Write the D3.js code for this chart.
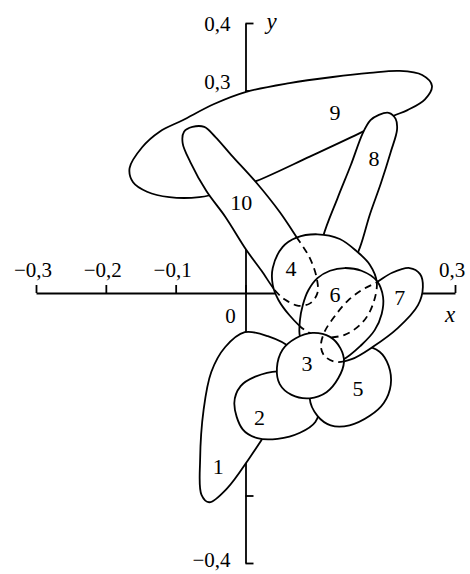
<!DOCTYPE html>
<html><head><meta charset="utf-8">
<script src="https://cdn.jsdelivr.net/npm/d3@7"></script>
<style>body{margin:0;background:#fff}</style>
</head><body>
<svg id="chart" width="470" height="574"></svg>
<script>
// ---- data (axis units) ----
const xTicks = [-0.3, -0.2, -0.1, 0, 0.1, 0.2, 0.3];
const yTicks = [-0.4, -0.3, -0.2, -0.1, 0.1, 0.2, 0.3, 0.4];
const xTickLabels = [[-0.3, "−0,3"], [-0.2, "−0,2"], [-0.1, "−0,1"], [0.3, "0,3"]];
const yTickLabels = [[0.4, "0,4"], [0.3, "0,3"], [-0.4, "−0,4"]];

// region outlines (x, y)
const region1 = [[-0.001,-0.058],[0.032,-0.064],[0.063,-0.081],[0.072,-0.114],[0.056,-0.159],[0.032,-0.203],[0.006,-0.244],[-0.026,-0.289],[-0.052,-0.310],[-0.063,-0.299],[-0.065,-0.247],[-0.060,-0.173],[-0.049,-0.117],[-0.029,-0.080]];
const region2 = [[-0.016,-0.163],[-0.007,-0.138],[0.014,-0.124],[0.046,-0.116],[0.075,-0.122],[0.096,-0.144],[0.106,-0.169],[0.100,-0.191],[0.078,-0.207],[0.046,-0.216],[0.017,-0.215],[-0.004,-0.202]];
const region3 = [[0.045,-0.111],[0.053,-0.084],[0.072,-0.067],[0.096,-0.059],[0.121,-0.065],[0.136,-0.082],[0.141,-0.102],[0.133,-0.126],[0.116,-0.147],[0.092,-0.156],[0.066,-0.151],[0.049,-0.135]];
const region4 = [[0.039,0.037],[0.053,0.068],[0.073,0.082],[0.103,0.087],[0.135,0.080],[0.159,0.062],[0.178,0.042],[0.188,0.016],[0.182,-0.018],[0.168,-0.043],[0.142,-0.062],[0.109,-0.065],[0.085,-0.055],[0.063,-0.033],[0.047,-0.010],[0.039,0.012]];
const region5 = [[0.092,-0.156],[0.099,-0.132],[0.121,-0.107],[0.146,-0.087],[0.171,-0.079],[0.192,-0.087],[0.205,-0.108],[0.208,-0.136],[0.198,-0.163],[0.178,-0.182],[0.149,-0.196],[0.122,-0.196],[0.103,-0.182]];
const region6 = [[0.078,-0.065],[0.078,-0.040],[0.082,-0.018],[0.090,0.004],[0.103,0.022],[0.121,0.033],[0.142,0.037],[0.166,0.033],[0.188,0.018],[0.197,-0.006],[0.195,-0.031],[0.185,-0.055],[0.166,-0.077],[0.139,-0.099],[0.113,-0.105],[0.092,-0.095]];
const region7 = [[0.188,0.016],[0.210,0.030],[0.235,0.037],[0.250,0.028],[0.254,0.009],[0.247,-0.018],[0.218,-0.052],[0.182,-0.080],[0.152,-0.098],[0.129,-0.102],[0.113,-0.093],[0.108,-0.079],[0.113,-0.058],[0.128,-0.034],[0.146,-0.012],[0.166,0.004]];
const region8 = [[0.191,0.264],[0.205,0.267],[0.215,0.258],[0.217,0.242],[0.208,0.209],[0.194,0.163],[0.178,0.116],[0.164,0.068],[0.149,0.034],[0.132,0.016],[0.113,0.022],[0.106,0.049],[0.111,0.083],[0.132,0.141],[0.151,0.190],[0.168,0.237],[0.179,0.256]];
const region9 = [[-0.166,0.185],[-0.148,0.216],[-0.123,0.239],[-0.090,0.256],[-0.045,0.280],[0.001,0.298],[0.063,0.311],[0.125,0.320],[0.178,0.326],[0.221,0.329],[0.253,0.323],[0.267,0.307],[0.257,0.287],[0.232,0.271],[0.211,0.262],[0.168,0.239],[0.092,0.202],[0.016,0.166],[-0.030,0.150],[-0.066,0.142],[-0.109,0.142],[-0.141,0.150],[-0.161,0.164]];
const region10 = [[-0.076,0.246],[-0.059,0.246],[-0.043,0.231],[-0.020,0.204],[0.016,0.163],[0.049,0.120],[0.073,0.083],[0.092,0.052],[0.102,0.022],[0.103,0.000],[0.093,-0.015],[0.076,-0.019],[0.057,-0.010],[0.043,0.003],[0.023,0.033],[0.001,0.064],[-0.029,0.113],[-0.056,0.151],[-0.079,0.194],[-0.090,0.222],[-0.088,0.239]];

const regionIds = [1, 2, 3, 4, 5, 6, 7, 8, 9, 10];
const regionOutlines = [region1, region2, region3, region4, region5, region6, region7, region8, region9, region10];
const labelX = [-0.039, 0.020, 0.088, 0.065, 0.161, 0.128, 0.221, 0.184, 0.128, -0.006];
const labelY = [-0.256, -0.184, -0.104, 0.037, -0.141, -0.002, -0.007, 0.200, 0.268, 0.135];
// stacking order, back to front
const drawOrder = [9, 10, 8, 4, 1, 2, 5, 7, 6, 3];
// [covering region, region whose hidden edge is drawn dashed]
const hiddenEdges = [[4, 10], [6, 10], [6, 4], [6, 7], [3, 7]];

// ---- drawing ----
const svg = d3.select("#chart");
const x = d3.scaleLinear().domain([-0.3, 0.3]).range([36, 455]);
const y = d3.scaleLinear().domain([-0.4, 0.4]).range([563, 23]);
const SW = 1.8;
const font = "'Liberation Serif','Times New Roman',serif";

const outlineOf = id => regionOutlines[regionIds.indexOf(id)];
const line = d3.line().x(d => x(d[0])).y(d => y(d[1])).curve(d3.curveCatmullRomClosed.alpha(0.5));

// axes
const gx = svg.append("g").attr("transform", `translate(0,${y(0)})`)
  .call(d3.axisTop(x).tickValues(xTicks).tickSize(8).tickSizeOuter(0).tickFormat(""));
const gy = svg.append("g").attr("transform", `translate(${x(0)},0)`)
  .call(d3.axisRight(y).tickValues(yTicks).tickSize(8).tickSizeOuter(0).tickFormat(""));
[gx, gy].forEach(g => {
  g.selectAll("path,line").attr("stroke", "#000").attr("stroke-width", SW);
});

// clip paths
const defs = svg.append("defs");
regionIds.forEach(id => {
  defs.append("clipPath").attr("id", "clip-" + id)
    .append("path").attr("d", line(outlineOf(id)));
});

// regions
const gr = svg.append("g");
drawOrder.forEach(id => {
  gr.append("path").attr("d", line(outlineOf(id)))
    .attr("fill", "#fff").attr("stroke", "#000").attr("stroke-width", SW)
    .attr("stroke-linejoin", "round");
  hiddenEdges.filter(h => h[0] === id).forEach(h => {
    gr.append("path").attr("d", line(outlineOf(h[1])))
      .attr("fill", "none").attr("stroke", "#000").attr("stroke-width", SW)
      .attr("stroke-dasharray", "7,5")
      .attr("clip-path", `url(#clip-${id})`);
  });
});

// region labels
svg.append("g").selectAll("text").data(regionIds).join("text")
  .attr("x", (d, i) => x(labelX[i]))
  .attr("y", (d, i) => y(labelY[i]))
  .attr("dy", "0.35em")
  .attr("text-anchor", "middle")
  .attr("font-family", font).attr("font-size", 22)
  .text(d => d);

// tick labels
svg.append("g").selectAll("text").data(xTickLabels).join("text")
  .attr("x", d => x(d[0]) - 3).attr("y", y(0) - 16)
  .attr("text-anchor", "middle")
  .attr("font-family", font).attr("font-size", 21)
  .text(d => d[1]);
svg.append("g").selectAll("text").data(yTickLabels).join("text")
  .attr("x", x(0) - 15)
  .attr("y", d => d[0] === 0.3 ? y(d[0]) - 1.5 : (d[0] < 0 ? y(d[0]) + 4 : y(d[0]) + 8))
  .attr("text-anchor", "end")
  .attr("font-family", font).attr("font-size", 21)
  .text(d => d[1]);
svg.append("text").attr("x", x(0) - 15).attr("y", y(0) + 30)
  .attr("text-anchor", "middle").attr("font-family", font).attr("font-size", 21).text("0");

// axis titles
svg.append("text").attr("x", x(0.3) - 5).attr("y", y(0) + 29)
  .attr("text-anchor", "middle").attr("font-family", font).attr("font-style", "italic")
  .attr("font-size", 23).text("x");
svg.append("text").attr("x", x(0) + 26).attr("y", y(0.4) + 6)
  .attr("text-anchor", "middle").attr("font-family", font).attr("font-style", "italic")
  .attr("font-size", 23).text("y");
</script>
</body></html>
